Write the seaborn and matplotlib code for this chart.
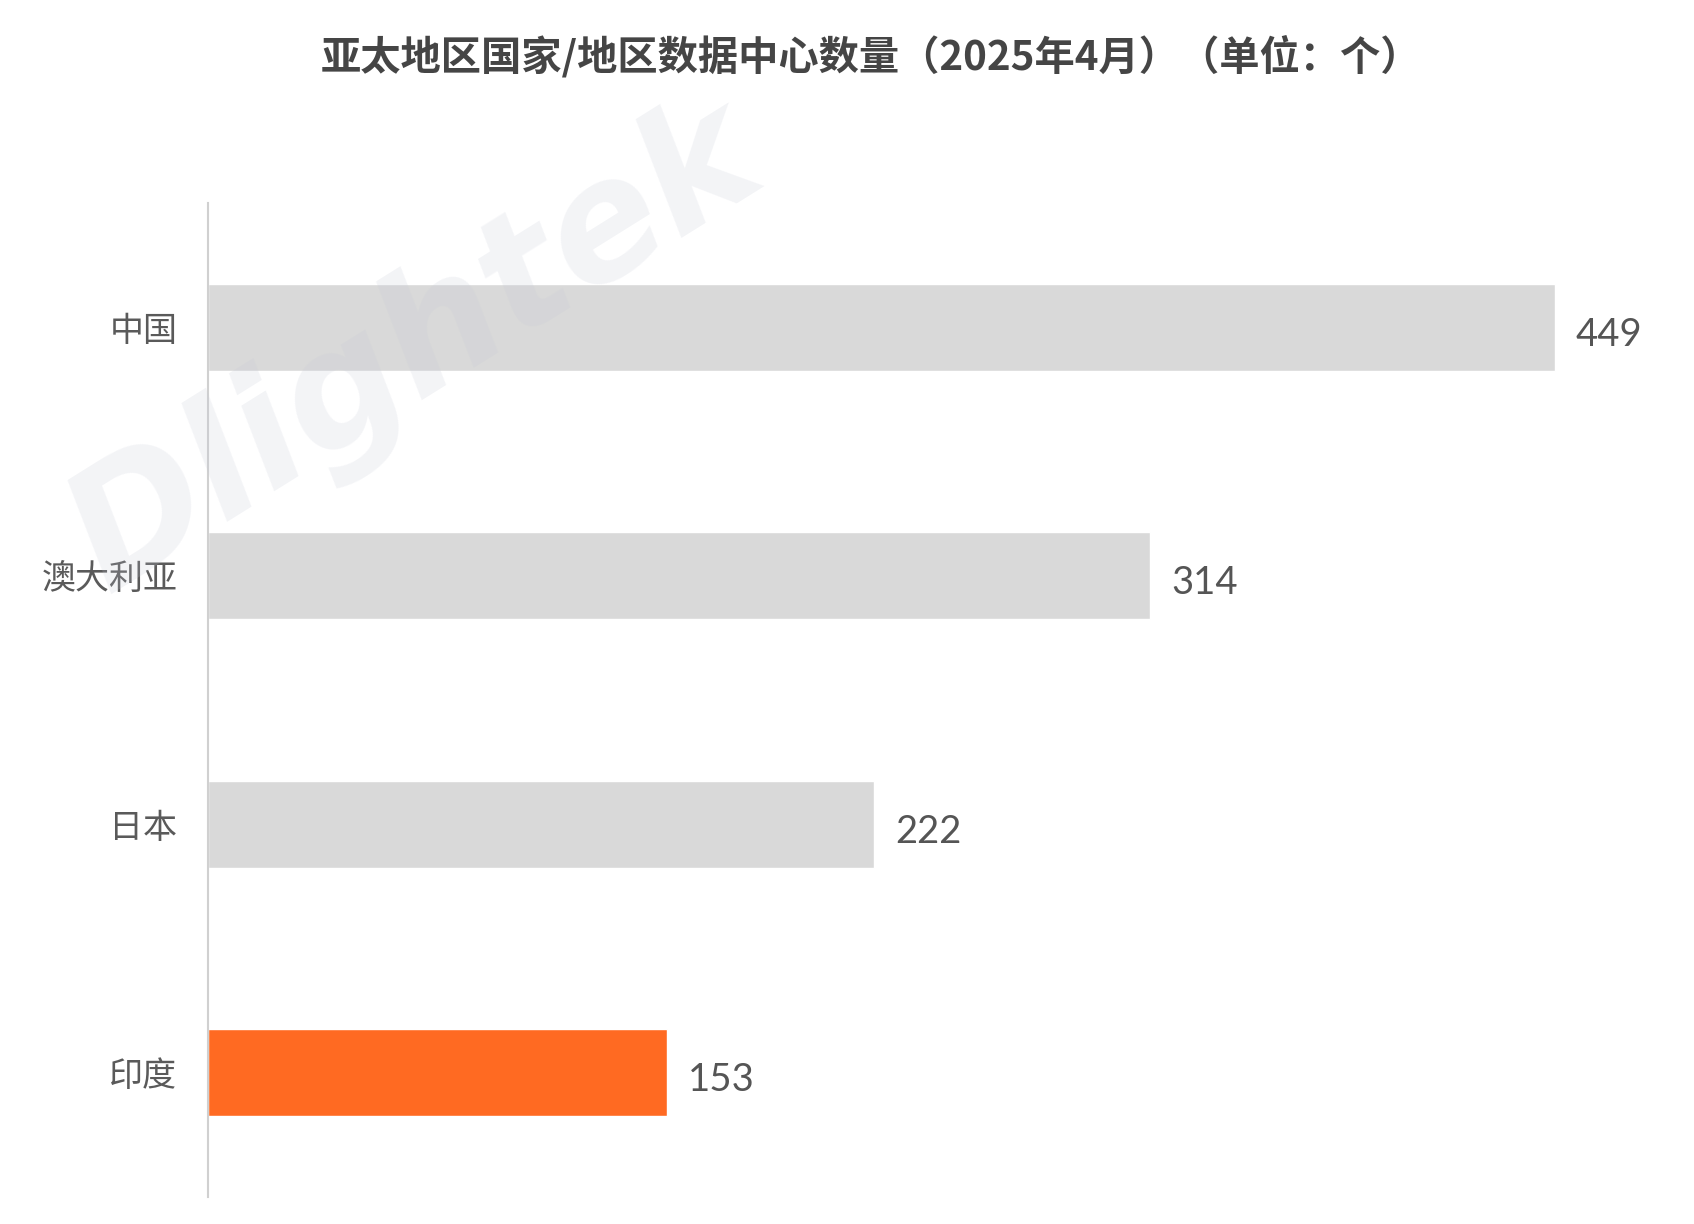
import matplotlib
matplotlib.use("Agg")
import matplotlib.pyplot as plt
import seaborn as sns
import pandas as pd

categories = ["中国", "澳大利亚", "日本", "印度"]
values = [449, 314, 222, 153]
bar_colors = ["#d9d9d9", "#d9d9d9", "#d9d9d9", "#ff6a22"]
title = "亚太地区国家/地区数据中心数量（2025年4月）（单位：个）"

sns.set_theme(style="white")
plt.rcParams["font.family"] = ["Noto Sans CJK SC", "DejaVu Sans"]

df = pd.DataFrame({"country": categories, "count": values})

fig = plt.figure(figsize=(16.94, 12.24), dpi=100)
ax = fig.add_axes([0.1228, 0.022, 0.85, 0.812])

sns.barplot(data=df, x="count", y="country", hue="country",
            palette=dict(zip(categories, bar_colors)), legend=False,
            orient="h", width=0.35, saturation=1, ax=ax, zorder=2)

ax.set_xlim(0, 480)
ax.set_ylim(3.5, -0.5)
ax.set_xlabel("")
ax.set_ylabel("")
ax.set_xticks([])
for s in ["top", "right", "bottom"]:
    ax.spines[s].set_visible(False)
ax.spines["left"].set_color("#d0d0d0")
ax.spines["left"].set_linewidth(1.5)
ax.tick_params(axis="y", length=0, pad=22, labelsize=24.5, labelcolor="#5a5a5a")

for i, v in enumerate(values):
    ax.text(v + 7, i + 0.03, str(v), va="center", ha="left",
            fontsize=27.5, color="#555555", family=["Lato", "DejaVu Sans"])

fig.text(0.514, 0.953, title, ha="center", va="center", fontsize=29,
         fontweight="bold", color="#454545")

# watermark
fig.text(0.245, 0.715, "Dlightek", ha="center", va="center", fontsize=118,
         fontweight="heavy", style="italic", rotation=32, color="#c5c9d6",
         alpha=0.2, family=["DejaVu Sans"], zorder=10)

fig.savefig("out.png", dpi=100, facecolor="white")
